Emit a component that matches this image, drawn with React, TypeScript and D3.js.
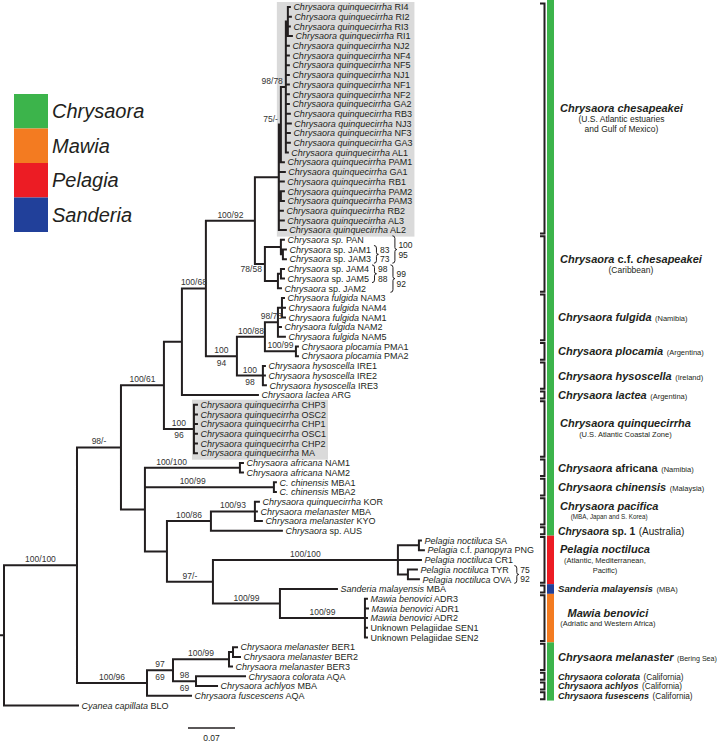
import React from 'react';
import * as d3 from 'd3';

const FONT = '"Liberation Sans", Arial, Helvetica, sans-serif';
const INK = '#231f20';

// ---------- DATA ----------
const tipLabels: string[] = [
  '*Chrysaora quinquecirrha* RI4', '*Chrysaora quinquecirrha* RI2', '*Chrysaora quinquecirrha* RI3',
  '*Chrysaora quinquecirrha* RI1', '*Chrysaora quinquecirrha* NJ2', '*Chrysaora quinquecirrha* NF4',
  '*Chrysaora quinquecirrha* NF5', '*Chrysaora quinquecirrha* NJ1', '*Chrysaora quinquecirrha* NF1',
  '*Chrysaora quinquecirrha* NF2', '*Chrysaora quinquecirrha* GA2', '*Chrysaora quinquecirrha* RB3',
  '*Chrysaora quinquecirrha* NJ3', '*Chrysaora quinquecirrha* NF3', '*Chrysaora quinquecirrha* GA3',
  '*Chrysaora quinquecirrha* AL1', '*Chrysaora quinquecirrha* PAM1', '*Chrysaora quinquecirrha* GA1',
  '*Chrysaora quinquecirrha* RB1', '*Chrysaora quinquecirrha* PAM2', '*Chrysaora quinquecirrha* PAM3',
  '*Chrysaora quinquecirrha* RB2', '*Chrysaora quinquecirrha* AL3', '*Chrysaora quinquecirrha* AL2',
  '*Chrysaora sp.* PAN', '*Chrysaora* sp. JAM1', '*Chrysaora* sp. JAM3', '*Chrysaora* sp. JAM4',
  '*Chrysaora* sp. JAM5', '*Chrysaora* sp. JAM2',
  '*Chrysaora fulgida* NAM3', '*Chrysaora fulgida* NAM4', '*Chrysaora fulgida* NAM1',
  '*Chrysaora fulgida* NAM2', '*Chrysaora fulgida* NAM5',
  '*Chrysaora plocamia* PMA1', '*Chrysaora plocamia* PMA2',
  '*Chrysaora hysoscella* IRE1', '*Chrysaora hysoscella* IRE2', '*Chrysaora hysoscella* IRE3',
  '*Chrysaora lactea* ARG',
  '*Chrysaora quinquecirrha* CHP3', '*Chrysaora quinquecirrha* OSC2', '*Chrysaora quinquecirrha* CHP1',
  '*Chrysaora quinquecirrha* OSC1', '*Chrysaora quinquecirrha* CHP2', '*Chrysaora quinquecirrha* MA',
  '*Chrysaora africana* NAM1', '*Chrysaora africana* NAM2',
  '*C. chinensis* MBA1', '*C. chinensis* MBA2',
  '*Chrysaora quinquecirrha* KOR', '*Chrysaora melanaster* MBA', '*Chrysaora melanaster* KYO',
  '*Chrysaora* sp. AUS',
  '*Pelagia noctiluca* SA', '*Pelagia* c.f. *panopyra* PNG', '*Pelagia noctiluca* CR1',
  '*Pelagia noctiluca* TYR', '*Pelagia noctiluca* OVA',
  '*Sanderia malayensis* MBA',
  '*Mawia benovici* ADR3', '*Mawia benovici* ADR1', '*Mawia benovici* ADR2',
  'Unknown Pelagiidae SEN1', 'Unknown Pelagiidae SEN2',
  '*Chrysaora melanaster* BER1', '*Chrysaora melanaster* BER2', '*Chrysaora melanaster* BER3',
  '*Chrysaora colorata* AQA', '*Chrysaora achlyos* MBA', '*Chrysaora fuscescens* AQA',
  '*Cyanea capillata* BLO',
];

// [node id, parent id, branch length (substitutions/site)]
const edges: [string, string, number][] = [
  ['root', '', 0],
  ['ING', 'root', 0.1087],
  ['N98m', 'ING', 0.0655],
  ['N61', 'N98m', 0.0640],
  ['LP', 'N61', 0.0268],
  ['N68', 'LP', 0.0357],
  ['N92', 'N68', 0.0730],
  ['C0', 'N92', 0.0357],
  ['N75', 'C0', 0.0030],
  ['N98', 'N75', 0.0074],
  ['R', 'N98', 0.0030],
  ['t0', 'R', 0.0030], ['t1', 'R', 0.0045], ['t2', 'R', 0.0030], ['t3', 'R', 0.0060],
  ['t4', 'N98', 0.0045], ['t5', 'N98', 0.0045], ['t6', 'N98', 0.0045], ['t7', 'N98', 0.0045],
  ['t8', 'N98', 0.0045], ['t9', 'N98', 0.0045], ['t10', 'N98', 0.0045], ['t11', 'N98', 0.0060],
  ['t12', 'N98', 0.0074], ['t13', 'N98', 0.0060], ['t14', 'N98', 0.0060], ['t15', 'N98', 0.0030],
  ['t16', 'N75', 0.0045],
  ['t17', 'C0', 0.0089], ['t18', 'C0', 0.0074],
  ['PP', 'C0', 0.0030], ['t19', 'PP', 0.0045], ['t20', 'PP', 0.0045],
  ['t21', 'C0', 0.0060], ['t22', 'C0', 0.0074], ['t23', 'C0', 0.0104],
  ['J0', 'N92', 0.0149],
  ['J1', 'J0', 0.0238], ['t24', 'J1', 0.0045], ['J1a', 'J1', 0.0030], ['t25', 'J1a', 0.0045], ['t26', 'J1a', 0.0045],
  ['J2', 'J0', 0.0194], ['J2a', 'J2', 0.0045], ['t27', 'J2a', 0.0045], ['t28', 'J2a', 0.0045], ['t29', 'J2', 0.0045],
  ['N94', 'N68', 0.0462],
  ['N88', 'N94', 0.0417],
  ['F', 'N88', 0.0194], ['F1', 'F', 0.0060], ['t30', 'F1', 0.0030], ['t31', 'F1', 0.0045], ['t32', 'F1', 0.0045],
  ['t33', 'F', 0.0045], ['t34', 'F', 0.0104],
  ['PL', 'N88', 0.0462], ['t35', 'PL', 0.0030], ['t36', 'PL', 0.0030],
  ['H', 'N94', 0.0387], ['t37', 'H', 0.0030], ['t38', 'H', 0.0030], ['t39', 'H', 0.0045],
  ['t40', 'LP', 0.1132],
  ['QC', 'N61', 0.0447],
  ['t41', 'QC', 0.0045], ['t42', 'QC', 0.0045], ['t43', 'QC', 0.0045],
  ['t44', 'QC', 0.0045], ['t45', 'QC', 0.0045], ['t46', 'QC', 0.0045],
  ['X', 'N98m', 0.0357],
  ['AF', 'X', 0.1415], ['t47', 'AF', 0.0045], ['t48', 'AF', 0.0045],
  ['CH', 'X', 0.1921], ['t49', 'CH', 0.0030], ['t50', 'CH', 0.0030],
  ['Y', 'X', 0.0328],
  ['N86', 'Y', 0.0655],
  ['N93', 'N86', 0.0655], ['t51', 'N93', 0.0060], ['t52', 'N93', 0.0030], ['t53', 'N93', 0.0104],
  ['t54', 'N86', 0.1057],
  ['N97', 'Y', 0.0685],
  ['PE', 'N97', 0.2755],
  ['PSP', 'PE', 0.0313], ['t55', 'PSP', 0.0030], ['t56', 'PSP', 0.0074],
  ['t57', 'PE', 0.0343],
  ['PTO', 'PE', 0.0149], ['t58', 'PTO', 0.0134], ['t59', 'PTO', 0.0164],
  ['SM', 'N97', 0.0998],
  ['t60', 'SM', 0.0849],
  ['MW', 'SM', 0.1266], ['t61', 'MW', 0.0030], ['t62', 'MW', 0.0045], ['t63', 'MW', 0.0030],
  ['t64', 'MW', 0.0030], ['t65', 'MW', 0.0030],
  ['OG', 'ING', 0.1043],
  ['N9769', 'OG', 0.0387],
  ['BER', 'N9769', 0.0834], ['B12', 'BER', 0.0060], ['t66', 'B12', 0.0060], ['t67', 'B12', 0.0104],
  ['t68', 'BER', 0.0045],
  ['N9869', 'N9769', 0.0343], ['t69', 'N9869', 0.0730], ['t70', 'N9869', 0.0313],
  ['t71', 'OG', 0.0655],
  ['t72', 'root', 0.1102],
];

// [node id, support text, placement]
const supports: [string, string, string][] = [
  ['ING', '100/100', 'above'], ['N98m', '98/-', 'above'], ['N61', '100/61', 'above'],
  ['N68', '100/68', 'above'], ['N92', '100/92', 'above'], ['N75', '75/-', 'left'],
  ['N98', '98/78', 'left'], ['J0', '78/58', 'leftBelow'], ['N94', '100/94', 'split'],
  ['N88', '100/88', 'above'], ['F', '98/73', 'above'], ['PL', '100/99', 'above'],
  ['H', '100/98', 'split'], ['QC', '100/96', 'split'], ['AF', '100/100', 'above'],
  ['CH', '100/99', 'above'], ['N86', '100/86', 'above'], ['N93', '100/93', 'above'],
  ['N97', '97/-', 'above'], ['PE', '100/100', 'above'], ['SM', '100/99', 'above'],
  ['MW', '100/99', 'above'], ['OG', '100/96', 'above'], ['N9769', '97/69', 'split'],
  ['BER', '100/99', 'above'], ['N9869', '98/69', 'split'],
];

// [first tip, last tip, upper value, lower value]
const bracketSupports: [number, number, string, string][] = [
  [25, 26, '83', '73'], [24, 26, '100', '95'],
  [27, 28, '98', '88'], [27, 29, '99', '92'],
  [58, 59, '75', '92'],
];

const grayBoxes: [number, number][] = [[0, 23], [41, 46]];

// [first tip, last tip, name, inline note, lines below]
const clades: [number, number, string, string, string[]][] = [
  [0, 23, '*Chrysaora chesapeakei*', '', ['(U.S. Atlantic estuaries', 'and Gulf of Mexico)']],
  [24, 29, '*Chrysaora* c.f. *chesapeakei*', '', ['(Caribbean)']],
  [30, 34, '*Chrysaora fulgida*', '(Namibia)', []],
  [35, 36, '*Chrysaora plocamia*', '(Argentina)', []],
  [37, 39, '*Chrysaora hysoscella*', '(Ireland)', []],
  [40, 40, '*Chrysaora lactea*', '(Argentina)', []],
  [41, 46, '*Chrysaora quinquecirrha*', '', ['(U.S. Atlantic Coastal Zone)']],
  [47, 48, '*Chrysaora* africana', '(Namibia)', []],
  [49, 50, '*Chrysaora chinensis*', '(Malaysia)', []],
  [51, 53, '*Chrysaora pacifica*', '', ['(MBA, Japan and S. Korea)']],
  [54, 54, '*Chrysaora* sp. 1', '(Australia)', []],
  [55, 59, '*Pelagia noctiluca*', '', ['(Atlantic, Mediterranean,', 'Pacific)']],
  [60, 60, '*Sanderia malayensis*', '(MBA)', []],
  [61, 65, '*Mawia benovici*', '', ['(Adriatic and Western Africa)']],
  [66, 68, '*Chrysaora melanaster*', '(Bering Sea)', []],
  [69, 69, '*Chrysaora colorata*', '(California)', []],
  [70, 70, '*Chrysaora achlyos*', '(California)', []],
  [71, 71, '*Chrysaora fusescens*', '(California)', []],
];

const genusSpans: [string, number, number][] = [
  ['Chrysaora', 0, 54], ['Pelagia', 55, 59], ['Sanderia', 60, 60], ['Mawia', 61, 65], ['Chrysaora', 66, 71],
];
const genera = ['Chrysaora', 'Mawia', 'Pelagia', 'Sanderia'];
const genusColors = ['#3cb44b', '#f37b21', '#ec1c24', '#21409a'];
const scaleBarValue = 0.07;

// ---------- helpers ----------
let ctx: CanvasRenderingContext2D | null = null;
function tw(s: string, size: number, italic: boolean, bold: boolean) {
  if (!ctx) ctx = document.createElement('canvas').getContext('2d');
  if (!ctx) return s.length * size * 0.5;
  ctx.font = `${italic ? 'italic ' : ''}${bold ? 'bold ' : ''}${size}px "Liberation Sans", Arial, sans-serif`;
  return ctx.measureText(s).width;
}
function segs(m: string) {
  return m.split('*').map((t, i) => ({ t, it: i % 2 === 1 })).filter(p => p.t.length > 0);
}
function mw(m: string, size: number, bold = false) {
  return segs(m).reduce((a, p) => a + tw(p.t, size, p.it, bold), 0);
}
function Rich({ m, x, y, size, bold, anchor }: any) {
  return (
    <text x={x} y={y} fontSize={size} fontWeight={bold ? 'bold' : 'normal'} textAnchor={anchor || 'start'}
      fontFamily={FONT} fill={INK}>
      {segs(m).map((p, i) => (
        <tspan key={i} fontStyle={p.it ? 'italic' : 'normal'}>{p.t}</tspan>
      ))}
    </text>
  );
}

const nameSize: Record<number, number> = { 10: 10.3, 12: 9.6, 15: 9, 16: 9, 17: 9 };
const noteSize: Record<number, number> = { 0: 8.5, 1: 8.5, 9: 6.3, 10: 10, 14: 7.1, 15: 8.2, 16: 8.2, 17: 8.2 };
const labelFrac: Record<string, number> = { AF: 0.28, CH: 0.37 };

export default function App() {
  const W = 720, H = 742;
  const x = d3.scaleLinear().domain([0, 1]).range([4, 4 + 671.4]);
  const y = d3.scaleLinear().domain([0, tipLabels.length - 1]).range([7, 705.4]);

  const root: any = d3.stratify<[string, string, number]>()
    .id(d => d[0]).parentId(d => (d[1] ? d[1] : null))(edges);
  root.eachBefore((n: any) => { n.len = n.parent ? n.parent.len + n.data[2] : 0; n.px = x(n.len); });
  root.eachAfter((n: any) => {
    if (!n.children) n.py = y(+n.id.slice(1));
    else n.py = (n.children[0].py + n.children[n.children.length - 1].py) / 2;
  });
  const nodes: any[] = root.descendants();
  const byId = new Map<string, any>(nodes.map(n => [n.id, n]));
  const tips: any[] = tipLabels.map((_, i) => byId.get('t' + i));

  const TS = 9;
  const labelX = (i: number) => tips[i].px + 3.5;
  const rowRight = tipLabels.map((m, i) => labelX(i) + mw(m, TS));

  // branch paths
  let d = `M0,${root.py}H${root.px}`;
  nodes.forEach(n => {
    if (n.parent) d += `M${n.parent.px},${n.py}H${n.px}`;
    if (n.children) d += `M${n.px},${n.children[0].py}V${n.children[n.children.length - 1].py}`;
  });

  // gray boxes
  const boxes = grayBoxes.map(([a, b]) => {
    const lca = tips[a].ancestors().find((an: any) => an.leaves().includes(tips[b]));
    const right = d3.max(d3.range(a, b + 1), i => rowRight[i]) as number;
    return { x0: lca.px - 2, x1: right + 2, y0: y(a) - 5, y1: y(b) + 6.5 };
  });

  // tip brackets
  const bracketEls: any[] = [];
  const rr = rowRight.slice();
  bracketSupports.forEach(([a, b, t1, t2], k) => {
    const bx = (d3.max(d3.range(a, b + 1), i => rr[i]) as number) + 3;
    const top = y(a) - 4, bot = y(b) + 4, mid = (top + bot) / 2;
    const p = `M${bx},${top}Q${bx + 2.5},${top} ${bx + 2.5},${top + 2.5}V${mid - 2}Q${bx + 2.5},${mid} ${bx + 4.5},${mid}` +
      `Q${bx + 2.5},${mid} ${bx + 2.5},${mid + 2}V${bot - 2.5}Q${bx + 2.5},${bot} ${bx},${bot}`;
    const tx = bx + 6;
    bracketEls.push(
      <g key={'b' + k}>
        <path d={p} fill="none" stroke={INK} strokeWidth={1} />
        <text x={tx} y={mid - 1.5} fontSize={8.5} fontFamily={FONT} fill={INK}>{t1}</text>
        <text x={tx} y={mid + 8} fontSize={8.5} fontFamily={FONT} fill={INK}>{t2}</text>
      </g>
    );
    const wEnd = tx + Math.max(tw(t1, 8.5, false, false), tw(t2, 8.5, false, false));
    for (let i = a; i <= b; i++) rr[i] = wEnd;
  });

  // support labels
  const supEls = supports.map(([id, txt, mode], k) => {
    const n = byId.get(id);
    const common = { fontSize: 8.5, fontFamily: FONT, fill: '#333' } as any;
    if (mode === 'split') {
      const [a, b] = txt.split('/');
      const cx = (n.parent.px + n.px) / 2;
      return (
        <g key={'s' + k}>
          <text x={cx} y={n.py - 3} textAnchor="middle" {...common}>{a}</text>
          <text x={cx} y={n.py + 9.5} textAnchor="middle" {...common}>{b}</text>
        </g>
      );
    }
    if (mode === 'left') return <text key={'s' + k} x={n.px - 3} y={n.py - 3} textAnchor="end" {...common}>{txt}</text>;
    if (mode === 'leftBelow') return <text key={'s' + k} x={n.px - 3} y={n.py + 8} textAnchor="end" {...common}>{txt}</text>;
    const f = labelFrac[id] ?? 0.5;
    const cx = n.parent.px + (n.px - n.parent.px) * f;
    return <text key={'s' + k} x={cx} y={n.py - 3} textAnchor="middle" {...common}>{txt}</text>;
  });

  // right side clade labels
  const RX = 558;
  const cladeEls = clades.map(([a, b, name, note, subs], k) => {
    const ns = nameSize[k] ?? 11;
    const nts = noteSize[k] ?? 7.5;
    const gc = (y(a) + y(b)) / 2;
    const offs = [0];
    subs.forEach((_, i) => offs.push(offs[offs.length - 1] + (i === 0 ? 11 : 9.5)));
    const mean = d3.mean(offs) as number;
    const nameW = mw(name, ns, true);
    const subW = d3.max(subs, s => tw(s, nts, false, false)) ?? 0;
    const cx = RX + 2 + Math.max(nameW, subW) / 2;
    const nameX = subs.length ? cx - nameW / 2 : RX;
    const ny = gc - mean;
    return (
      <g key={'c' + k}>
        <Rich m={name} x={nameX} y={ny + ns * 0.36} size={ns} bold />
        {note && (
          <text x={nameX + nameW + 3.5} y={ny + ns * 0.36} fontSize={nts} fontFamily={FONT} fill={INK}>{note}</text>
        )}
        {subs.map((s, i) => (
          <text key={i} x={cx} y={ny + offs[i + 1] + nts * 0.36} textAnchor="middle" fontSize={nts}
            fontFamily={FONT} fill={INK}>{s}</text>
        ))}
      </g>
    );
  });

  // right brackets
  let bd = '';
  clades.forEach(([a, b]) => {
    const t = y(a) - 3.5, bt = y(b) + 3.5;
    bd += `M540,${t}H544.5V${bt}H540`;
  });

  const half = (y(1) - y(0)) / 2;
  const bars = genusSpans.map(([g, a, b], k) => {
    const y0 = k === 0 ? 0 : y(a) - half;
    const y1 = y(b) + half;
    return <rect key={'g' + k} x={547} y={y0} width={7} height={y1 - y0} fill={genusColors[genera.indexOf(g)]} />;
  });

  const sbX = 188;
  const sbLen = x(scaleBarValue) - x(0);

  return (
    <svg width={W} height={H} style={{ position: 'absolute', left: 0, top: 0, background: '#fff' }}
      xmlns="http://www.w3.org/2000/svg">
      <rect width={W} height={H} fill="#fff" />
      {boxes.map((b, i) => (
        <rect key={'bx' + i} x={b.x0} y={b.y0} width={b.x1 - b.x0} height={b.y1 - b.y0} fill="#dadada" />
      ))}
      <path d={d} fill="none" stroke={INK} strokeWidth={2} strokeLinecap="square" />
      {tipLabels.map((m, i) => (
        <Rich key={'t' + i} m={m} x={labelX(i)} y={tips[i].py + 3.2} size={TS} />
      ))}
      {supEls}
      {bracketEls}
      <path d={bd} fill="none" stroke={INK} strokeWidth={2} />
      {bars}
      {cladeEls}
      {genera.map((g, i) => (
        <g key={'l' + i}>
          <rect x={14} y={94 + i * 34.5} width={34} height={34.5} fill={genusColors[i]} />
          <text x={52} y={94 + i * 34.5 + 24} fontSize={20} fontStyle="italic" fontFamily={FONT} fill={INK}>{g}</text>
        </g>
      ))}
      <line x1={sbX} x2={sbX + sbLen} y1={728} y2={728} stroke={INK} strokeWidth={1.5} />
      <text x={sbX + sbLen / 2} y={741} textAnchor="middle" fontSize={8.5} fontFamily={FONT} fill={INK}>
        {String(scaleBarValue)}
      </text>
    </svg>
  );
}
